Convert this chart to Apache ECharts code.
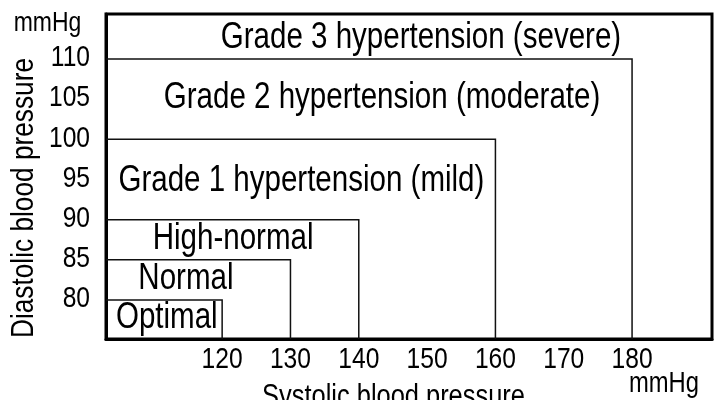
<!DOCTYPE html>
<html>
<head>
<meta charset="utf-8">
<script src="https://cdn.jsdelivr.net/npm/echarts@6/dist/echarts.min.js"></script>
<style>
html,body{margin:0;padding:0;background:#fff;}
#chart{width:714px;height:400px;}
</style>
</head>
<body>
<div id="chart"></div>
<script>
// Blood pressure classification (upper limits of each category)
const categories = ['Optimal', 'Normal', 'High-normal', 'Grade 1 hypertension (mild)', 'Grade 2 hypertension (moderate)', 'Grade 3 hypertension (severe)'];
const systolicLimits = [120, 130, 140, 160, 180];
const diastolicLimits = [80, 85, 90, 100, 110];
// label anchor points (data units)
const labelSystolic = [111.9, 114.7, 121.6, 131.6, 143.4, 149.1];
const labelDiastolic = [77.75, 82.55, 87.6, 94.75, 105.1, 112.6];
const xTicks = [120, 130, 140, 150, 160, 170, 180];
const yTicks = [80, 85, 90, 95, 100, 105, 110];
const xRange = [103, 191.7];
const yRange = [75.15, 115.6];

const FONT = "'Liberation Sans', Arial, sans-serif";
const NARROW = 0.82; // horizontal squeeze to imitate a narrow sans face

const chart = echarts.init(document.getElementById('chart'), null, {renderer: 'canvas'});

const boxData = systolicLimits.map((s, i) => [s, diastolicLimits[i], categories[i]]);
const labelData = categories.map((c, i) => [labelSystolic[i], labelDiastolic[i], c]);
const xTickData = xTicks.map(v => [v, yRange[0], String(v)]);
const yTickData = yTicks.map(v => [xRange[0], v, String(v)]);

function narrowText(text, x, y, size, extra) {
  return Object.assign({
    type: 'text', x: x, y: y, scaleX: NARROW, silent: true,
    style: {text: text, font: size + 'px ' + FONT, fill: '#000', align: 'center', verticalAlign: 'middle'}
  }, extra || {});
}

chart.setOption({
  animation: false,
  backgroundColor: '#fff',
  grid: {left: 106, right: 2, top: 14, bottom: 61, show: true, borderColor: '#000', borderWidth: 3, backgroundColor: 'transparent'},
  xAxis: {
    type: 'value', min: xRange[0], max: xRange[1],
    axisLine: {show: true, lineStyle: {color: '#000', width: 3}},
    axisTick: {show: false},
    splitLine: {show: false},
    axisLabel: {show: false}
  },
  yAxis: {
    type: 'value', min: yRange[0], max: yRange[1],
    axisLine: {show: true, lineStyle: {color: '#000', width: 3}},
    axisTick: {show: false},
    splitLine: {show: false},
    axisLabel: {show: false}
  },
  graphic: [
    narrowText('mmHg', 47.5, 23.5, 28),
    narrowText('mmHg', 664, 383.5, 29),
    narrowText('Systolic blood pressure', 393.5, 397, 31),
    narrowText('Diastolic blood pressure', 24.5, 198, 32, {rotation: Math.PI / 2})
  ],
  series: [
    {
      type: 'custom',
      name: 'boxes',
      coordinateSystem: 'cartesian2d',
      silent: true,
      data: boxData,
      encode: {x: 0, y: 1},
      renderItem: function (params, api) {
        const p = api.coord([api.value(0), api.value(1)]);
        const cs = params.coordSys;
        const left = cs.x, bottom = cs.y + cs.height;
        return {
          type: 'polyline',
          shape: {points: [[left, p[1]], [p[0], p[1]], [p[0], bottom]]},
          style: {stroke: '#111', lineWidth: 1.5, fill: null}
        };
      },
      z: 2
    },
    {
      type: 'custom',
      name: 'labels',
      coordinateSystem: 'cartesian2d',
      silent: true,
      data: labelData,
      encode: {x: 0, y: 1},
      renderItem: function (params, api) {
        const p = api.coord([api.value(0), api.value(1)]);
        return {
          type: 'text',
          x: p[0], y: p[1], scaleX: NARROW,
          style: {text: labelData[params.dataIndex][2], font: '36px ' + FONT, fill: '#000', align: 'center', verticalAlign: 'middle'}
        };
      },
      z: 3
    },
    {
      type: 'custom',
      name: 'x tick labels',
      coordinateSystem: 'cartesian2d',
      silent: true,
      clip: false,
      data: xTickData,
      encode: {x: 0, y: 1},
      renderItem: function (params, api) {
        const p = api.coord([api.value(0), api.value(1)]);
        return {
          type: 'text',
          x: p[0], y: p[1] + 21, scaleX: NARROW,
          style: {text: xTickData[params.dataIndex][2], font: '30px ' + FONT, fill: '#000', align: 'center', verticalAlign: 'middle'}
        };
      },
      z: 3
    },
    {
      type: 'custom',
      name: 'y tick labels',
      coordinateSystem: 'cartesian2d',
      silent: true,
      clip: false,
      data: yTickData,
      encode: {x: 0, y: 1},
      renderItem: function (params, api) {
        const p = api.coord([api.value(0), api.value(1)]);
        return {
          type: 'text',
          x: p[0] - 16, y: p[1] - 1, scaleX: NARROW,
          style: {text: yTickData[params.dataIndex][2], font: '30px ' + FONT, fill: '#000', align: 'right', verticalAlign: 'middle'}
        };
      },
      z: 3
    }
  ]
});
</script>
</body>
</html>
